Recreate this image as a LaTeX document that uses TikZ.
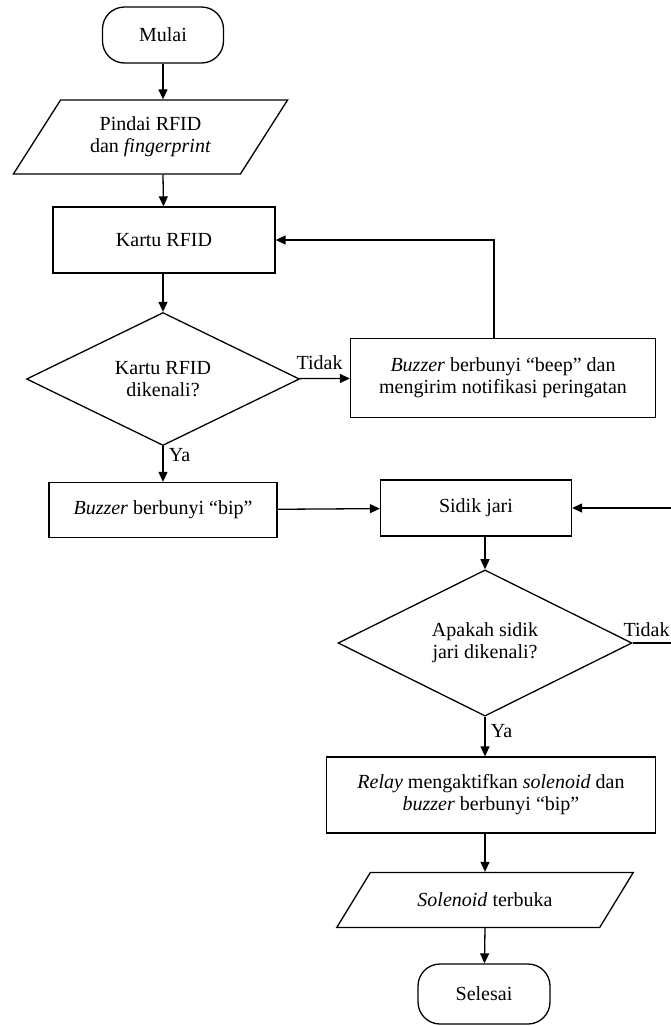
\documentclass[tikz,border=0pt]{standalone}
\usepackage{fontspec}
\setmainfont{Liberation Serif}
\usetikzlibrary{arrows.meta,shapes.geometric}
\tikzset{
  BaseStyle/.style = {draw=black, line width=1.3pt, align=center, inner sep=2pt,
                      font = \fontsize{20}{22}\selectfont},
  TermStyle/.style = {BaseStyle, rectangle, rounded corners=22pt},
  ProcStyle/.style = {BaseStyle, rectangle},
  IoStyle/.style = {BaseStyle, trapezium, trapezium stretches=true},
  DecStyle/.style = {BaseStyle, diamond, inner sep=0pt},
  LabelStyle/.style = {text = black, font = \fontsize{20}{22}\selectfont},
  EdgeStyle/.style = {black, line width=1.3pt, -{Triangle[length=10pt,width=9pt]}} }

\begin{document}
\begin{tikzpicture}[x=1pt,y=-1pt]
  \useasboundingbox (0,0) rectangle (670,1026);
  % kolom kiri
  \node[TermStyle, minimum width=121pt, minimum height=56pt] (mulai) at (163,35) {Mulai};
  \node[IoStyle, minimum width=275pt, minimum height=74pt,
        trapezium left angle=53.4, trapezium right angle=126.6] (pindai) at (150.5,137)
        {Pindai RFID\\dan \textit{fingerprint}};
  \node[ProcStyle, minimum width=222pt, minimum height=66pt] (kartu) at (164,240) {Kartu RFID};
  \node[DecStyle, minimum width=273pt, minimum height=133pt] (cekkartu) at (163,379)
        {Kartu RFID\\dikenali?};
  \node[ProcStyle, minimum width=305pt, minimum height=79pt] (beep) at (503,378)
        {\textit{Buzzer} berbunyi “beep” dan\\mengirim notifikasi peringatan};
  \node[ProcStyle, minimum width=228pt, minimum height=55pt] (bip) at (163,510)
        {\textit{Buzzer} berbunyi “bip”};
  % kolom kanan
  \node[ProcStyle, minimum width=191pt, minimum height=56pt] (sidik) at (476,508) {Sidik jari};
  \node[DecStyle, minimum width=294pt, minimum height=137pt] (ceksidik) at (485,643)
        {Apakah sidik\\jari dikenali?};
  \node[ProcStyle, minimum width=329pt, minimum height=76pt] (relay) at (491,795)
        {\textit{Relay} mengaktifkan \textit{solenoid} dan\\\textit{buzzer} berbunyi “bip”};
  \node[IoStyle, minimum width=297pt, minimum height=55pt,
        trapezium left angle=41.6, trapezium right angle=138.4] (buka) at (485,900)
        {\textit{Solenoid} terbuka};
  \node[TermStyle, minimum width=132pt, minimum height=60pt] (selesai) at (484,994) {Selesai};
  \coordinate (balik) at (700,643);

  \draw[EdgeStyle] (mulai) -- (mulai.south |- pindai.north);
  \draw[EdgeStyle] (mulai.south |- pindai.south) -- (kartu);
  \draw[EdgeStyle] (kartu.south -| cekkartu.north) -- (cekkartu);
  \draw[EdgeStyle] (cekkartu) -- node[LabelStyle, above=5pt, pos=0.4] {Tidak} (beep);
  \draw[EdgeStyle] (beep.north -| 494,0) |- (kartu);
  \draw[EdgeStyle] (cekkartu) -- node[LabelStyle, right=2pt, pos=0.25] {Ya} (bip);
  \draw[EdgeStyle] (bip) -- (sidik);
  \draw[EdgeStyle] (sidik.south -| ceksidik.north) -- (ceksidik);
  \draw[EdgeStyle] (ceksidik.east) -- node[LabelStyle, anchor=south west, pos=0,
                   xshift=-13pt, yshift=2pt] {Tidak} (balik) |- (sidik);
  \draw[EdgeStyle] (ceksidik) -- node[LabelStyle, right=2pt, pos=0.35] {Ya} (ceksidik.south |- relay.north);
  \draw[EdgeStyle] (ceksidik.south |- relay.south) -- (ceksidik.south |- buka.north);
  \draw[EdgeStyle] (ceksidik.south |- buka.south) -- (selesai);
\end{tikzpicture}
\end{document}
